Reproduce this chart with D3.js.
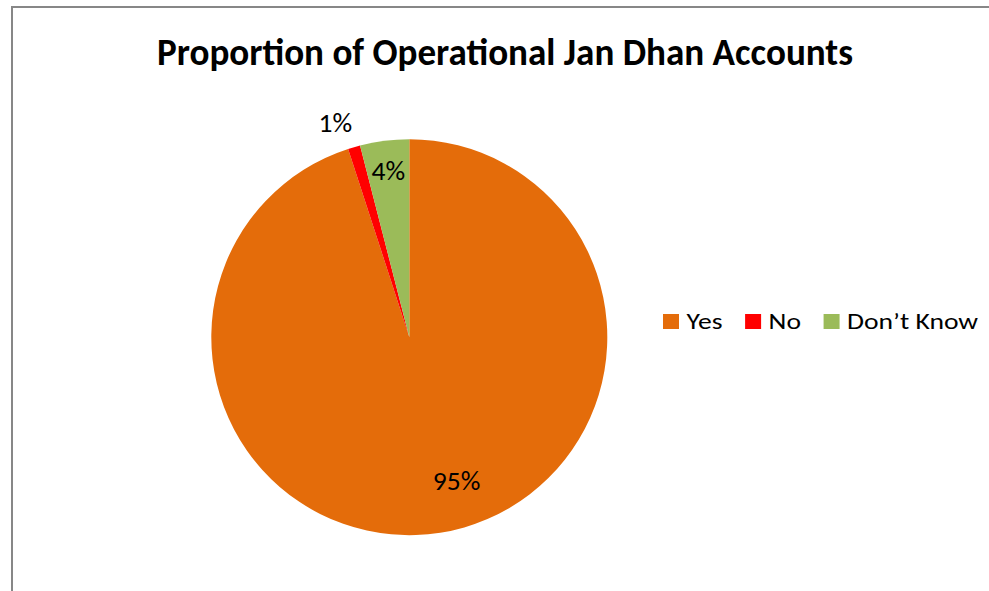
<!DOCTYPE html>
<html>
<head>
<meta charset="utf-8">
<script src="https://cdn.jsdelivr.net/npm/d3@7"></script>
<style>
  html, body { margin: 0; padding: 0; background: #fff; }
  svg { display: block; }
</style>
</head>
<body>
<svg id="chart" width="989" height="591"></svg>
<script>
// Survey answers: is the Jan Dhan account operational?
const categories = ["Yes", "No", "Don\u2019t Know"];
const shares = [95, 1, 4];
const sliceColors = ["#E46C0A", "#FF0000", "#9BBB59"];
const chartTitle = "Proportion of Operational Jan Dhan Accounts";

const FONT = "Carlito, Calibri, Lato, 'Open Sans', sans-serif";
const svg = d3.select("#chart");

// Chart-area frame (runs off the right and bottom edges)
svg.append("rect")
  .attr("x", 12).attr("y", 7)
  .attr("width", 1100).attr("height", 800)
  .attr("fill", "#fff")
  .attr("stroke", "#878787")
  .attr("stroke-width", 2);

// Title
svg.append("text")
  .attr("x", 505).attr("y", 64.5)
  .attr("text-anchor", "middle")
  .attr("font-family", FONT)
  .attr("font-weight", "bold")
  .attr("font-size", 37.5)
  .attr("fill", "#000")
  .attr("textLength", 696)
  .attr("lengthAdjust", "spacingAndGlyphs")
  .text(chartTitle);

// Pie
const cx = 409.3, cy = 337.2, R = 198;
const data = categories.map((c, i) => ({ category: c, value: shares[i], color: sliceColors[i] }));
const pie = d3.pie().value(d => d.value).sort(null);
const arcs = pie(data);
const arc = d3.arc().innerRadius(0).outerRadius(R);

const g = svg.append("g").attr("transform", `translate(${cx},${cy})`);
g.selectAll("path.slice")
  .data(arcs)
  .join("path")
  .attr("class", "slice")
  .attr("d", arc)
  .attr("fill", d => d.data.color);

// Data labels: placed along each slice's angle at a chosen fraction of the radius
const labelRadius = { "Yes": 0.766, "No": 1.144, "Don\u2019t Know": 0.847 };
const labelAngleShift = { "Yes": -0.16, "No": -0.05, "Don\u2019t Know": 0 };
const fmt = d3.format(".0%");
const labelPos = d => {
  const a = (d.startAngle + d.endAngle) / 2 + labelAngleShift[d.data.category];
  const r = R * labelRadius[d.data.category];
  return [Math.sin(a) * r, -Math.cos(a) * r];
};
g.selectAll("text.value")
  .data(arcs)
  .join("text")
  .attr("class", "value")
  .attr("font-family", FONT)
  .attr("font-size", 27.5)
  .attr("fill", "#000")
  .attr("text-anchor", "middle")
  .attr("x", d => labelPos(d)[0])
  .attr("y", d => labelPos(d)[1] + 8.8)
  .text(d => fmt(d.data.value / 100));

// Legend: swatches followed by slightly widened labels
const legend = svg.append("g").attr("transform", "translate(663,314)");
const legendStretch = 1.2;
let lx = 0;
data.forEach(d => {
  legend.append("rect")
    .attr("x", lx).attr("y", 0)
    .attr("width", 16).attr("height", 15)
    .attr("fill", d.color);
  const t = legend.append("text")
    .attr("x", lx + 23.5).attr("y", 15.2)
    .attr("font-family", FONT)
    .attr("font-size", 23)
    .attr("fill", "#000")
    .text(d.category);
  const w = t.node().getComputedTextLength() * legendStretch;
  t.attr("textLength", w).attr("lengthAdjust", "spacingAndGlyphs");
  lx += 23.5 + w + 22.6;
});
</script>
</body>
</html>
